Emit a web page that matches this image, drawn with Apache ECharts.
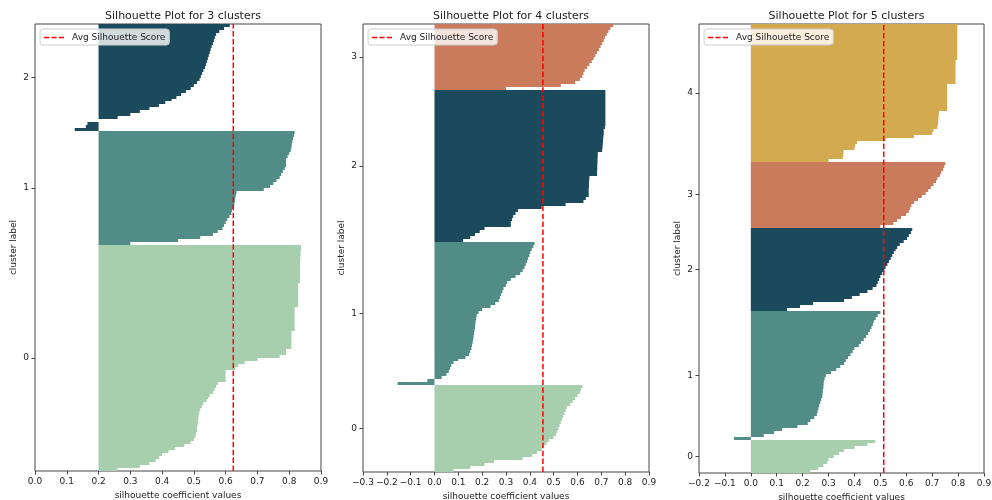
<!DOCTYPE html>
<html><head><meta charset="utf-8">
<script src="https://cdn.jsdelivr.net/npm/echarts@6/dist/echarts.min.js"></script>
<style>html,body{margin:0;padding:0;background:#fff}#c{width:992px;height:500px}</style>
</head><body><div id="c"></div>
<script>
// ---- data (silhouette values, sorted ascending within each cluster) ----
const k3_c0 = [0.26,0.33,0.36,0.38,0.39,0.40,0.42,0.44,0.47,0.49,
  0.50,0.505,0.507,0.51,0.51,0.512,0.513,0.514,0.515,0.517,
  0.52,0.525,0.53,0.54,0.545,0.55,0.56,0.565,0.57,0.575,
  0.60,0.60,0.60,0.60,0.63,0.64,0.66,0.70,0.77,0.79,
  0.79,0.807,0.807,0.807,0.807,0.807,0.807,0.817,0.817,0.817,
  0.817,0.817,0.817,0.817,0.817,0.828,0.828,0.828,0.828,0.828,
  0.828,0.828,0.828,0.834,0.834,0.834,0.834,0.834,0.834,0.834,
  0.835,0.835,0.836,0.836,0.837,0.837];
const k3_c1 = [0.30,0.45,0.52,0.56,0.575,0.59,0.595,0.60,0.605,0.612,
  0.618,0.62,0.625,0.627,0.629,0.63,0.632,0.634,0.72,0.74,
  0.75,0.76,0.77,0.775,0.78,0.786,0.79,0.79,0.79,0.795,
  0.80,0.805,0.807,0.808,0.81,0.812,0.815,0.817];
const k3_c2 = [0.125,0.16,0.165,0.20,0.26,0.30,0.33,0.36,0.39,0.41,
  0.43,0.445,0.46,0.475,0.49,0.50,0.51,0.518,0.522,0.526,
  0.53,0.535,0.538,0.541,0.544,0.547,0.55,0.553,0.556,0.56,
  0.563,0.566,0.57,0.58,0.595,0.613];

const k4_c0 = [0.08,0.15,0.21,0.25,0.37,0.41,0.43,0.45,0.46,0.47,
  0.48,0.50,0.51,0.515,0.52,0.525,0.53,0.535,0.54,0.545,
  0.55,0.555,0.57,0.58,0.59,0.60,0.61,0.615,0.62];
const k4_c1 = [-0.155,-0.03,0.03,0.05,0.06,0.065,0.07,0.08,0.10,0.13,
  0.145,0.15,0.155,0.157,0.16,0.162,0.164,0.166,0.168,0.17,
  0.171,0.173,0.175,0.177,0.185,0.2,0.235,0.255,0.27,0.275,
  0.28,0.285,0.29,0.30,0.305,0.32,0.34,0.36,0.37,0.378,
  0.383,0.388,0.393,0.398,0.402,0.408,0.415,0.42];
const k4_c2 = [0.12,0.15,0.17,0.19,0.21,0.32,0.32,0.325,0.33,0.34,
  0.35,0.45,0.55,0.625,0.635,0.647,0.647,0.647,0.648,0.648,
  0.649,0.65,0.682,0.682,0.683,0.683,0.684,0.684,0.685,0.685,
  0.703,0.705,0.706,0.707,0.708,0.709,0.71,0.71,0.715,0.717,
  0.717,0.717,0.717,0.717,0.717,0.717,0.717,0.717,0.717,0.717,0.717];
const k4_c3 = [0.30,0.53,0.59,0.61,0.62,0.625,0.63,0.64,0.65,0.66,
  0.668,0.675,0.682,0.69,0.697,0.704,0.71,0.715,0.723,0.73,
  0.738,0.75];

const k5_c0 = [0.23,0.26,0.28,0.295,0.30,0.32,0.34,0.36,0.40,0.45,0.48];
const k5_c1 = [-0.065,0.05,0.09,0.12,0.18,0.22,0.23,0.245,0.255,0.258,
  0.261,0.264,0.268,0.272,0.276,0.277,0.278,0.28,0.281,0.282,
  0.285,0.29,0.31,0.33,0.345,0.36,0.367,0.375,0.385,0.393,
  0.40,0.417,0.425,0.436,0.445,0.453,0.46,0.466,0.471,0.475,
  0.482,0.49,0.50];
const k5_c2 = [0.14,0.19,0.24,0.36,0.39,0.42,0.45,0.47,0.485,0.49,
  0.495,0.50,0.507,0.515,0.52,0.527,0.533,0.54,0.546,0.552,
  0.559,0.565,0.575,0.59,0.603,0.61,0.618,0.623];
const k5_c3 = [0.50,0.55,0.565,0.58,0.60,0.61,0.615,0.62,0.63,0.645,
  0.66,0.675,0.685,0.695,0.705,0.715,0.72,0.73,0.735,0.742,
  0.747,0.751];
const k5_c4 = [0.30,0.355,0.357,0.358,0.40,0.403,0.41,0.52,0.63,0.70,
  0.705,0.72,0.722,0.723,0.724,0.725,0.726,0.758,0.758,0.758,
  0.758,0.758,0.758,0.758,0.758,0.758,0.79,0.79,0.79,0.79,
  0.79,0.79,0.79,0.79,0.797,0.797,0.797,0.797,0.797,0.797,
  0.797,0.797,0.797,0.797,0.797,0.797];

const panelTitles = ['Silhouette Plot for 3 clusters','Silhouette Plot for 4 clusters','Silhouette Plot for 5 clusters'];
const avgScores = [0.624, 0.455, 0.513];
const baselines = [0.2, 0, 0];
const xMins = [0, -0.3, -0.2];
const xMax = 0.9;
const xTickStep = 0.1;
const legendLabel = 'Avg Silhouette Score';
const xAxisTitle = 'silhouette coefficient values';
const yAxisTitle = 'cluster label';
const clusterColors = ['#a7cfad','#518c86','#1a4a5c','#c97b5b','#d4aa50'];

const panels = [[k3_c0,k3_c1,k3_c2],[k4_c0,k4_c1,k4_c2,k4_c3],[k5_c0,k5_c1,k5_c2,k5_c3,k5_c4]];

// ---- layout ----
const FONT = 'DejaVu Sans';
const grids = [
  {left:35, top:24, width:286, height:447},
  {left:363, top:24, width:286, height:448},
  {left:699, top:24, width:285, height:449}
];
const dashIcon = 'path://M0,0H5.5V1.5H0Z M7.9,0H13.4V1.5H7.9Z M15.8,0H21.3V1.5H15.8Z';

const option = {animation:false, backgroundColor:'#fff', textStyle:{fontFamily:FONT},
  grid:[], xAxis:[], yAxis:[], series:[], title:[], legend:[]};

function fmtX(v){
  const r = Math.round(v*10)/10;
  return (r < 0 ? '\u2212' : '') + Math.abs(r).toFixed(1);
}

panels.forEach((clusters, p) => {
  const g = grids[p];
  option.grid.push({left:g.left, top:g.top, width:g.width, height:g.height, show:true,
    borderColor:'#444', borderWidth:1, backgroundColor:'transparent', containLabel:false,
    outerBoundsMode:'none'});
  const total = clusters.reduce((s,c)=>s+c.length,0);
  const centers = [];
  let start = 0;
  clusters.forEach((vals, c) => {
    centers.push(start + vals.length/2);
    const base = baselines[p];
    const color = clusterColors[c];
    option.series.push({
      type:'custom', xAxisIndex:p, yAxisIndex:p, clip:true, silent:true, z:2,
      data: vals.map((v,i)=>[base, start+i, v]),
      encode:{x:[0,2], y:1},
      renderItem:(params, api) => {
        const a = api.coord([api.value(0), api.value(1)]);
        const b = api.coord([api.value(2), api.value(1)+1]);
        const yt = Math.round(b[1]), yb = Math.round(a[1]);
        return {type:'rect',
          shape:{x:Math.min(a[0],b[0]), y:yt, width:Math.abs(b[0]-a[0]), height:yb-yt},
          style:{fill:color}};
      }
    });
    start += vals.length;
  });
  option.xAxis.push({type:'value', gridIndex:p, min:xMins[p], max:xMax, interval:xTickStep,
    name:xAxisTitle, nameLocation:'middle', nameGap:17,
    nameTextStyle:{fontSize:9, color:'#222', fontFamily:FONT},
    axisLine:{show:false, onZero:false}, splitLine:{show:false},
    axisTick:{show:true, length:3.5, lineStyle:{color:'#444'}},
    axisLabel:{fontSize:9, color:'#222', margin:6, fontFamily:FONT, formatter:fmtX}});
  option.yAxis.push({type:'value', gridIndex:p, min:0, max:total,
    name:yAxisTitle, nameLocation:'middle', nameGap:17, nameRotate:90,
    nameTextStyle:{fontSize:9, color:'#222', fontFamily:FONT},
    axisLine:{show:false, onZero:false}, splitLine:{show:false},
    axisTick:{show:true, length:3.5, customValues:centers, lineStyle:{color:'#444'}},
    axisLabel:{fontSize:9, color:'#222', margin:6, fontFamily:FONT, customValues:centers,
      formatter:(v)=>{ const i = centers.findIndex(cv=>Math.abs(cv-v)<1e-6); return i>=0 ? String(i) : ''; }}});
  option.series.push({type:'line', name:legendLabel, xAxisIndex:p, yAxisIndex:p, z:5,
    symbol:'none', silent:true, itemStyle:{color:'#ff0000'},
    data:[[avgScores[p],0],[avgScores[p],total]],
    lineStyle:{color:'#ff0000', width:1.5, type:[5.5,2.4]}});
  option.title.push({text:panelTitles[p], left:g.left+g.width/2, top:6, textAlign:'center',
    textStyle:{fontSize:11, fontWeight:'normal', color:'#222', fontFamily:FONT}});
  option.legend.push({data:[{name:legendLabel, icon:dashIcon, itemStyle:{color:'#ff0000'}}],
    left:g.left+5, top:g.top+5, orient:'vertical',
    padding:[4,4,3,4], itemWidth:20, itemHeight:1.5, itemGap:0,
    backgroundColor:'rgba(255,255,255,0.8)', borderColor:'#cccccc', borderWidth:1, borderRadius:3,
    textStyle:{fontSize:9, color:'#222', fontFamily:FONT, padding:[0,0,0,3]}, selectedMode:false});
});

const chart = echarts.init(document.getElementById('c'), null, {renderer:'canvas'});
chart.setOption(option);
</script></body></html>
